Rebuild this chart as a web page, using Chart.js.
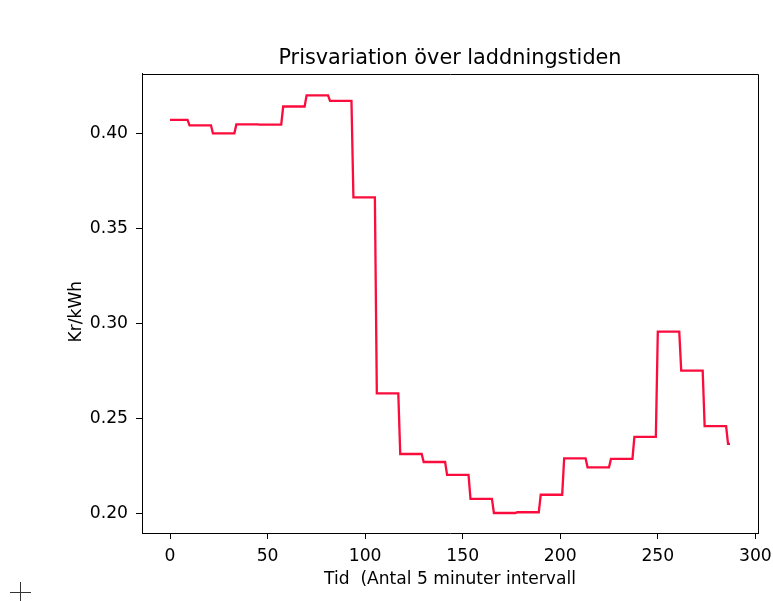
<!DOCTYPE html>
<html>
<head>
<meta charset="utf-8">
<script src="https://cdn.jsdelivr.net/npm/chart.js@4/dist/chart.umd.min.js"></script>
<style>
    html, body { margin: 0; padding: 0; background: #fff; }
    #wrap { width: 773px; height: 601px; }
</style>
</head>
<body>
<div id="wrap"><canvas id="priceChart" width="773" height="601"></canvas></div>
<script>
// price per 5 minute interval (kr/kWh), one row per price period
var prices = [
    0.4071, 0.4071, 0.4071, 0.4071, 0.4071, 0.4071, 0.4071, 0.4071, 0.4071, 0.4071,
    0.4042, 0.4042, 0.4042, 0.4042, 0.4042, 0.4042, 0.4042, 0.4042, 0.4042, 0.4042, 0.4042, 0.4042,
    0.4000, 0.4000, 0.4000, 0.4000, 0.4000, 0.4000, 0.4000, 0.4000, 0.4000, 0.4000, 0.4000, 0.4000,
    0.4047, 0.4047, 0.4047, 0.4047, 0.4047, 0.4047, 0.4047, 0.4047, 0.4047, 0.4047, 0.4047, 0.4047,
    0.4046, 0.4046, 0.4046, 0.4046, 0.4046, 0.4046, 0.4046, 0.4046, 0.4046, 0.4046, 0.4046, 0.4046,
    0.4141, 0.4141, 0.4141, 0.4141, 0.4141, 0.4141, 0.4141, 0.4141, 0.4141, 0.4141, 0.4141, 0.4141,
    0.4200, 0.4200, 0.4200, 0.4200, 0.4200, 0.4200, 0.4200, 0.4200, 0.4200, 0.4200, 0.4200, 0.4200,
    0.4171, 0.4171, 0.4171, 0.4171, 0.4171, 0.4171, 0.4171, 0.4171, 0.4171, 0.4171, 0.4171, 0.4171,
    0.3663, 0.3663, 0.3663, 0.3663, 0.3663, 0.3663, 0.3663, 0.3663, 0.3663, 0.3663, 0.3663, 0.3663,
    0.2634, 0.2634, 0.2634, 0.2634, 0.2634, 0.2634, 0.2634, 0.2634, 0.2634, 0.2634, 0.2634, 0.2634,
    0.2315, 0.2315, 0.2315, 0.2315, 0.2315, 0.2315, 0.2315, 0.2315, 0.2315, 0.2315, 0.2315, 0.2315,
    0.2273, 0.2273, 0.2273, 0.2273, 0.2273, 0.2273, 0.2273, 0.2273, 0.2273, 0.2273, 0.2273, 0.2273,
    0.2205, 0.2205, 0.2205, 0.2205, 0.2205, 0.2205, 0.2205, 0.2205, 0.2205, 0.2205, 0.2205, 0.2205,
    0.2079, 0.2079, 0.2079, 0.2079, 0.2079, 0.2079, 0.2079, 0.2079, 0.2079, 0.2079, 0.2079, 0.2079,
    0.2005, 0.2005, 0.2005, 0.2005, 0.2005, 0.2005, 0.2005, 0.2005, 0.2005, 0.2005, 0.2005, 0.2005,
    0.2009, 0.2009, 0.2009, 0.2009, 0.2009, 0.2009, 0.2009, 0.2009, 0.2009, 0.2009, 0.2009, 0.2009,
    0.2101, 0.2101, 0.2101, 0.2101, 0.2101, 0.2101, 0.2101, 0.2101, 0.2101, 0.2101, 0.2101, 0.2101,
    0.2292, 0.2292, 0.2292, 0.2292, 0.2292, 0.2292, 0.2292, 0.2292, 0.2292, 0.2292, 0.2292, 0.2292,
    0.2245, 0.2245, 0.2245, 0.2245, 0.2245, 0.2245, 0.2245, 0.2245, 0.2245, 0.2245, 0.2245, 0.2245,
    0.2289, 0.2289, 0.2289, 0.2289, 0.2289, 0.2289, 0.2289, 0.2289, 0.2289, 0.2289, 0.2289, 0.2289,
    0.2405, 0.2405, 0.2405, 0.2405, 0.2405, 0.2405, 0.2405, 0.2405, 0.2405, 0.2405, 0.2405, 0.2405,
    0.2958, 0.2958, 0.2958, 0.2958, 0.2958, 0.2958, 0.2958, 0.2958, 0.2958, 0.2958, 0.2958, 0.2958,
    0.2753, 0.2753, 0.2753, 0.2753, 0.2753, 0.2753, 0.2753, 0.2753, 0.2753, 0.2753, 0.2753, 0.2753,
    0.2462, 0.2462, 0.2462, 0.2462, 0.2462, 0.2462, 0.2462, 0.2462, 0.2462, 0.2462, 0.2462, 0.2462,
    0.2368, 0.2368
];

var xTicks = [0, 50, 100, 150, 200, 250, 300];
var yTicks = [0.20, 0.25, 0.30, 0.35, 0.40];

var chartTitle = "Prisvariation över laddningstiden";
var xTitle = "Tid  (Antal 5 minuter intervall";
var yTitle = "Kr/kWh   ";

var fontFamily = "'DejaVu Sans', sans-serif";
var lineColor = "rgb(250, 12, 60)";

// box around the plot area + the stray cursor cross in the screenshot
var frameBox = {
    id: "frameBox",
    afterDraw: function(chart) {
        var ctx = chart.ctx;
        var area = chart.chartArea;
        var l = Math.round(area.left) + 0.5;
        var r = Math.round(area.right) + 0.5;
        var t = Math.round(area.top) + 0.5;
        var b = Math.round(area.bottom) + 0.5;
        ctx.save();
        ctx.strokeStyle = "#000";
        ctx.lineWidth = 1;
        ctx.beginPath();
        ctx.moveTo(l, t);
        ctx.lineTo(r, t);
        ctx.lineTo(r, b);
        ctx.stroke();

        ctx.strokeStyle = "#333";
        ctx.beginPath();
        ctx.moveTo(10, 592.5);
        ctx.lineTo(31, 592.5);
        ctx.moveTo(20.5, 582);
        ctx.lineTo(20.5, 601);
        ctx.stroke();
        ctx.restore();
    }
};

function fixX(scale) {
    scale.height = 68;
    scale.paddingLeft = 0;
    scale.paddingRight = 0;
}

function fixY(scale) {
    scale.width = 142;
    scale.paddingTop = 0;
    scale.paddingBottom = 0;
}

var points = prices.map(function(p, i) {
    return { x: i, y: p };
});

const priceChart = new Chart(document.getElementById("priceChart").getContext("2d"), {
    type: "line",
    data: {
        datasets: [{
            data: points,
            borderColor: lineColor,
            borderWidth: 2.3,
            pointRadius: 0,
            tension: 0,
            fill: false
        }]
    },
    options: {
        responsive: false,
        animation: false,
        layout: {
            padding: { left: 0, right: 15, top: 0, bottom: 0 }
        },
        plugins: {
            legend: { display: false },
            tooltip: { enabled: false },
            title: {
                display: true,
                text: chartTitle,
                fullSize: false,
                color: "#000",
                font: { family: fontFamily, size: 20.8, weight: "normal" },
                padding: { top: 46, bottom: 3 }
            }
        },
        scales: {
            x: {
                type: "linear",
                min: -14.35,
                max: 301.35,
                afterFit: fixX,
                afterBuildTicks: function(scale) {
                    scale.ticks = xTicks.map(function(v) { return { value: v }; });
                },
                grid: {
                    display: true,
                    drawOnChartArea: false,
                    drawTicks: true,
                    tickLength: 6,
                    tickColor: "#000"
                },
                border: { display: true, color: "#000", width: 1 },
                ticks: {
                    color: "#000",
                    padding: 7,
                    maxRotation: 0,
                    font: { family: fontFamily, size: 17.2 }
                },
                title: {
                    display: true,
                    text: xTitle,
                    color: "#000",
                    font: { family: fontFamily, size: 17.1 },
                    padding: { top: 0, bottom: 11 }
                }
            },
            y: {
                type: "linear",
                min: 0.1900,
                max: 0.4312,
                afterFit: fixY,
                afterBuildTicks: function(scale) {
                    scale.ticks = yTicks.map(function(v) { return { value: v }; });
                },
                grid: {
                    display: true,
                    drawOnChartArea: false,
                    drawTicks: true,
                    tickLength: 6,
                    tickColor: "#000"
                },
                border: { display: true, color: "#000", width: 1 },
                ticks: {
                    color: "#000",
                    padding: 8,
                    font: { family: fontFamily, size: 17.2 },
                    callback: function(value) {
                        return value.toFixed(2);
                    }
                },
                title: {
                    display: true,
                    text: yTitle,
                    color: "#000",
                    font: { family: fontFamily, size: 17.1 },
                    padding: { top: 66, bottom: 0 }
                }
            }
        }
    },
    plugins: [frameBox]
});
</script>
</body>
</html>
